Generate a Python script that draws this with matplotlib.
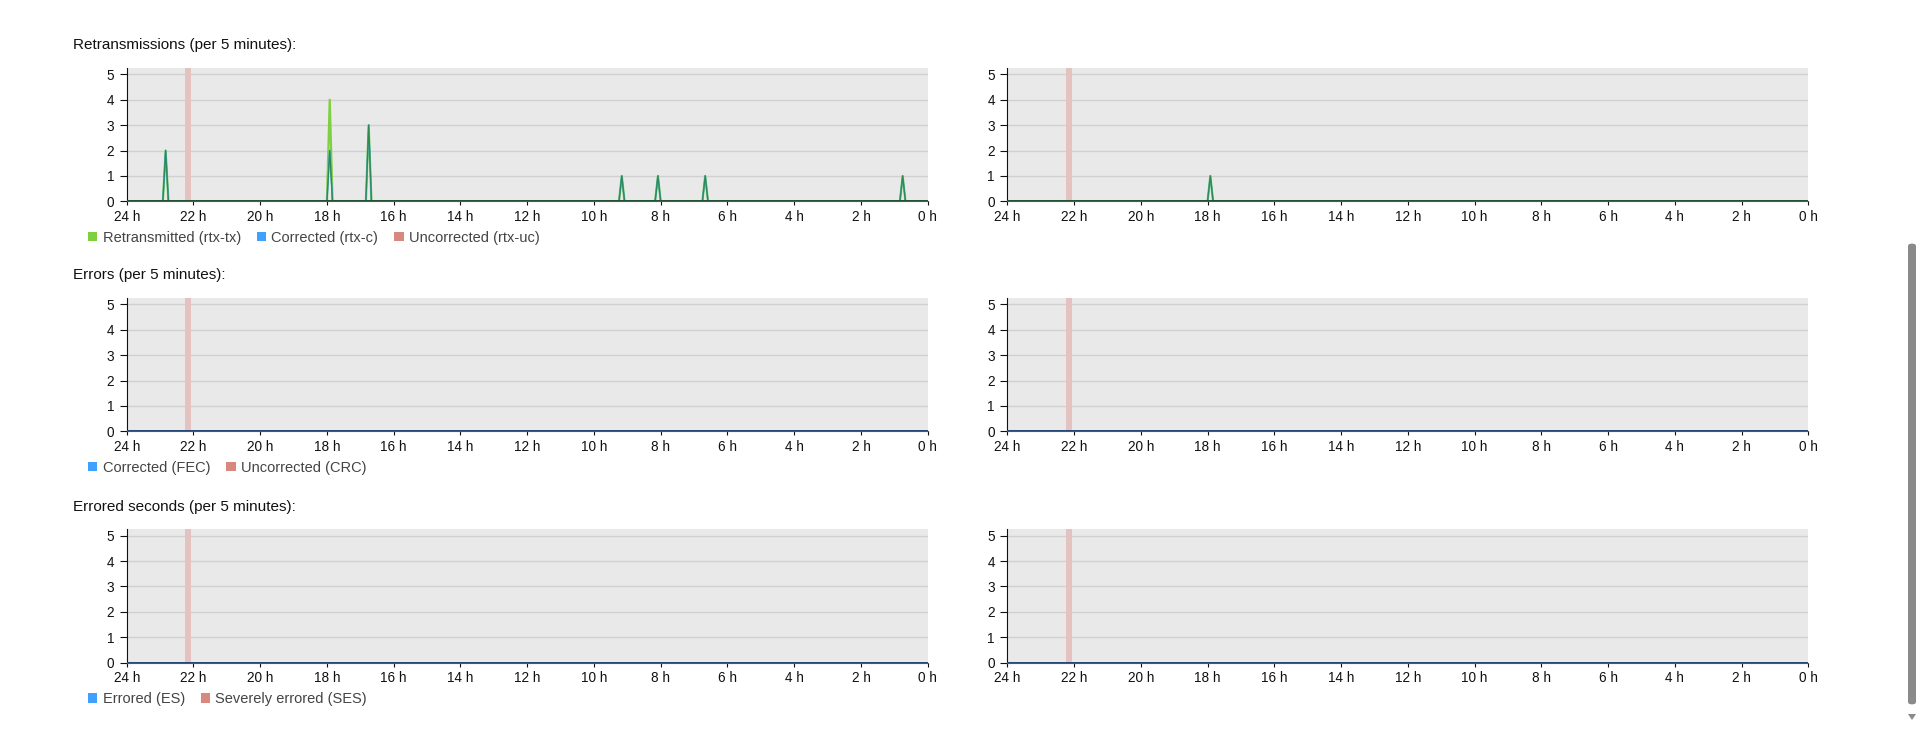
import numpy as np
import matplotlib
matplotlib.use("Agg")
import matplotlib.pyplot as plt
from matplotlib.patches import Patch, FancyBboxPatch, Polygon

plt.rcParams["font.family"] = ["Liberation Sans", "DejaVu Sans"]

# time axis: hours ago, 5-minute samples
step_h = 1 / 12
hours_ago = np.arange(0, 24 + step_h / 2, step_h)

# spikes: (hours ago, value)
left_rtx_tx = [(22.83, 2), (17.92, 4), (16.75, 3), (9.17, 1), (8.08, 1), (6.67, 1), (0.75, 1)]
left_rtx_c = [(22.83, 2), (17.92, 2), (16.75, 3), (9.17, 1), (8.08, 1), (6.67, 1), (0.75, 1)]
right_rtx_tx = [(17.92, 1)]
right_rtx_c = [(17.92, 1)]

# shaded gap (hours ago)
gap_left = (22.25, 22.07)
gap_right = (22.23, 22.06)

titles = ["Retransmissions (per 5 minutes):", "Errors (per 5 minutes):", "Errored seconds (per 5 minutes):"]
legends = [
    ["Retransmitted (rtx-tx)", "Corrected (rtx-c)", "Uncorrected (rtx-uc)"],
    ["Corrected (FEC)", "Uncorrected (CRC)"],
    ["Errored (ES)", "Severely errored (SES)"],
]
xticks = list(range(24, -1, -2))
xtick_labels = [f"{h} h" for h in xticks]

GREEN = "#7fd040"
BLUE = "#3fa0ff"
RED = "#d98880"
BAND = "#e4c2c0"


def series(spikes):
    vals = np.zeros_like(hours_ago)
    for t, v in spikes:
        vals[np.argmin(np.abs(hours_ago - t))] = v
    return vals


W, H = 1919, 754
fig = plt.figure(figsize=(W / 100, H / 100), dpi=100)

col_left = [126.7, 1007.3]
row_top = [67.7, 297.7, 529.0]
ax_w, ax_h = 801, 133.6


def style_axes(ax):
    ax.set_facecolor("#e9e9e9")
    ax.set_xlim(24, 0)
    ax.set_ylim(0, 5.26)
    ax.set_yticks(range(0, 6))
    ax.set_xticks(xticks)
    ax.set_xticklabels(xtick_labels)
    ax.grid(axis="y", color="#d0d0d0", lw=1)
    ax.set_axisbelow(True)
    for s in ["top", "right"]:
        ax.spines[s].set_visible(False)
    ax.spines["left"].set_color("#111111")
    ax.spines["bottom"].set_color("#555555")
    ax.tick_params(axis="y", length=5, width=0.8, labelsize=9.8, pad=4, colors="#111111")
    ax.tick_params(axis="x", length=3, width=0.8, labelsize=9.8, pad=3, colors="#111111")


for r in range(3):
    for c in range(2):
        l = col_left[c]
        t = row_top[r]
        ax = fig.add_axes([l / W, 1 - (t + ax_h) / H, ax_w / W, ax_h / H])
        style_axes(ax)
        g = gap_left if c == 0 else gap_right
        ax.axvspan(g[1], g[0], color=BAND, lw=0, zorder=1)
        if r == 0:
            tx = series(left_rtx_tx if c == 0 else right_rtx_tx)
            cc = series(left_rtx_c if c == 0 else right_rtx_c)
            uc = series([])
            ax.plot(hours_ago, uc, color=RED, lw=1.2, zorder=2)
            ax.plot(hours_ago, tx, color=GREEN, lw=1.6, zorder=3)
            ax.plot(hours_ago, cc, color=BLUE, lw=1.1, zorder=4)
            ax.plot(hours_ago, np.minimum(tx, cc), color="#2e8a4e", lw=0.9, zorder=5)
            ax.axhline(0, color="#1f4a2a", lw=1.3, zorder=6)
        else:
            a = series([])
            b = series([])
            ax.plot(hours_ago, a, color=BLUE, lw=1.2, zorder=3)
            ax.plot(hours_ago, b, color=RED, lw=1.2, zorder=2)
            ax.axhline(0, color="#24406c", lw=1.3, zorder=6)
        if c == 0:
            fig.text(73 / W, 1 - (t - 22.5) / H, titles[r], fontsize=11, color="#111111",
                     ha="left", va="center")
            colors = [GREEN, BLUE, RED] if r == 0 else [BLUE, RED]
            handles = [Patch(facecolor=col, edgecolor="none", label=lab)
                       for col, lab in zip(colors, legends[r])]
            ax.legend(handles=handles, loc="center left", ncol=len(handles),
                      bbox_to_anchor=(88 / W, 1 - (t + 170) / H), bbox_transform=fig.transFigure,
                      frameon=False, fontsize=10.5, handlelength=0.65, handleheight=0.65,
                      handletextpad=0.35, columnspacing=1.1, borderpad=0, borderaxespad=0,
                      labelcolor="#444444")

# browser scrollbar on the right edge
fig.patches.append(FancyBboxPatch((1908 / W, 1 - 705 / H), 8 / W, 462 / H,
                                  boxstyle="round,pad=0,rounding_size=0.004",
                                  transform=fig.transFigure, facecolor="#8a8a8a", edgecolor="none"))
fig.patches.append(Polygon([(1908 / W, 1 - 714 / H), (1916 / W, 1 - 714 / H), (1912 / W, 1 - 720 / H)],
                           closed=True, transform=fig.transFigure, facecolor="#8a8a8a", edgecolor="none"))

fig.savefig("out.png", dpi=100, facecolor="white")
